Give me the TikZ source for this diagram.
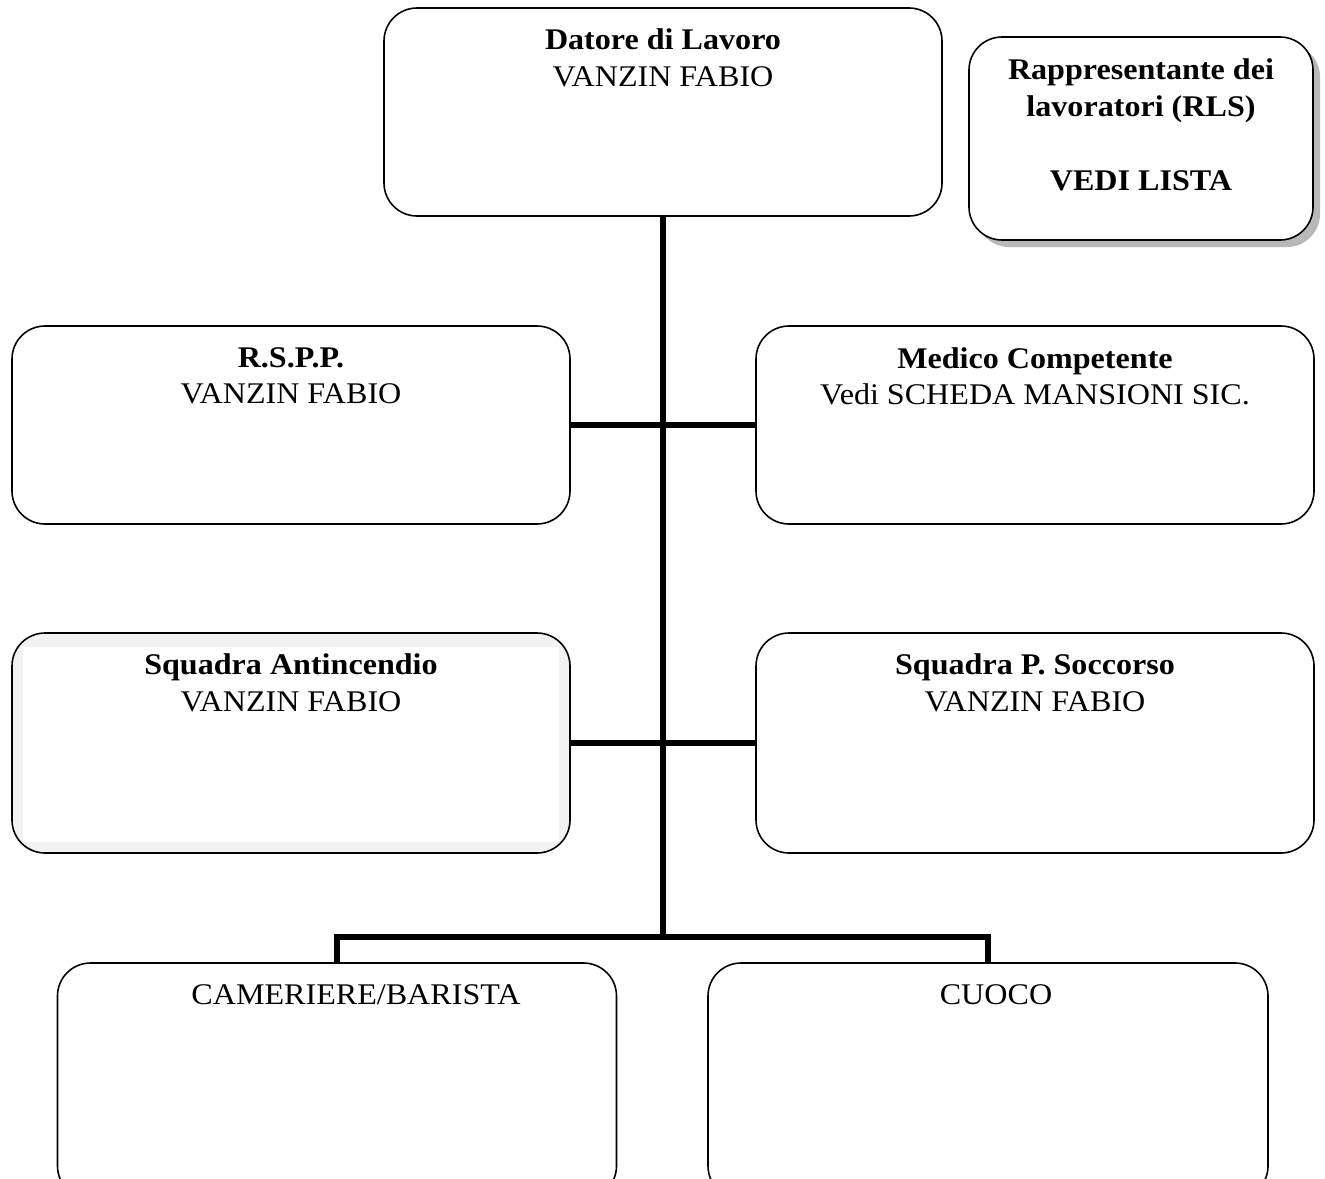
\documentclass[tikz,border=0pt]{standalone}
\usepackage{fontspec}
\setmainfont{Liberation Serif}[FakeStretch=1.07]
\begin{document}
\begin{tikzpicture}[x=1pt,y=-1pt,
  box/.style={draw=black, line width=1.6pt, rounded corners=33pt, fill=white, inner sep=0pt},
  conn/.style={draw=black, line width=5.5pt, line join=miter},
  txt/.style={anchor=north, inner sep=0pt, align=center, font=\fontsize{30}{36.5}\selectfont}]
\clip (0,0) rectangle (1325,1178);
\fill[white] (0,0) rectangle (1325,1178);

% Datore di Lavoro
\node[box, minimum width=558pt, minimum height=208pt] (dat) at (663,112) {};
\node[txt] (datt) at ([yshift=-21.5pt]dat.north) {\textbf{Datore di Lavoro}\\VANZIN FABIO};

% RLS with shadow
\fill[gray!55, rounded corners=33pt] (976,44) rectangle (1320,247);
\node[box, minimum width=344pt, minimum height=203pt] (rls) at (1141,138.5) {};
\node[txt, font=\bfseries\fontsize{30}{37}\selectfont] (rlst) at ([yshift=-22pt]rls.north) {Rappresentante dei\\lavoratori (RLS)\\[37pt]VEDI LISTA};

% RSPP
\node[box, minimum width=558pt, minimum height=198pt] (rspp) at (291,425) {};
\node[txt] (rsppt) at ([yshift=-22pt]rspp.north) {\textbf{R.S.P.P.}\\VANZIN FABIO};

% Medico
\node[box, minimum width=558pt, minimum height=198pt] (med) at (1035,425) {};
\node[txt] (medt) at ([yshift=-22pt]med.north) {\textbf{Medico Competente}\\Vedi SCHEDA MANSIONI SIC.};

% Squadra Antincendio (grey inner band)
\node[box, fill=gray!10, minimum width=558pt, minimum height=220pt] (sa) at (291,743) {};
\fill[white] (23,647) rectangle (559,842);
\node[txt] (sat) at ([yshift=-21.5pt]sa.north) {\textbf{Squadra Antincendio}\\VANZIN FABIO};

% Squadra P. Soccorso
\node[box, minimum width=558pt, minimum height=220pt] (sp) at (1035,743) {};
\node[txt] (spt) at ([yshift=-21.5pt]sp.north) {\textbf{Squadra P. Soccorso}\\VANZIN FABIO};

% Bottom boxes
\node[box, minimum width=559pt, minimum height=236pt] (cam) at (337,1081) {};
\node[txt] (camt) at ([yshift=-22pt,xshift=19pt]cam.north) {CAMERIERE/BARISTA};
\node[box, minimum width=560pt, minimum height=236pt] (cuo) at (988,1081) {};
\node[txt] (cuot) at ([yshift=-22pt,xshift=8pt]cuo.north) {CUOCO};

% Connectors
\coordinate (bar) at (663,937);
\draw[conn] (dat.south) -- (bar);
\draw[conn] (rspp.east) -- (med.west);
\draw[conn] (sa.east) -- (sp.west);
\draw[conn] (cam.north) |- (bar) -| (cuo.north);
\end{tikzpicture}
\end{document}
